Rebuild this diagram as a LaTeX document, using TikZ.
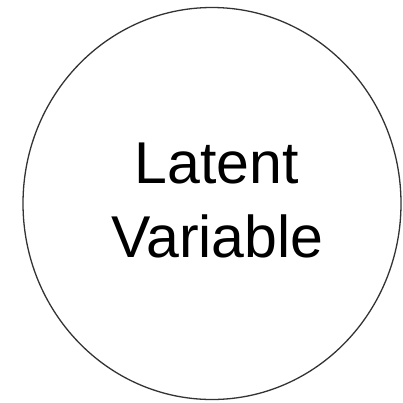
\documentclass[tikz,border=0pt]{standalone}
\usepackage{fontspec}
\setmainfont{Liberation Sans}
\usetikzlibrary{shapes.geometric}
\begin{document}
\begin{tikzpicture}[x=1pt,y=1pt,
  latent/.style={draw=black!80, line width=1.3pt, ellipse, inner sep=0pt},
  lbl/.style={anchor=base, inner sep=0pt, font=\fontsize{59}{70}\selectfont}]
\useasboundingbox (0,0) rectangle (403,-402);
\node[latent, minimum width=378pt, minimum height=392pt] (lv) at (212,-203.5) {};
\node[lbl] (t1) at (216.5,-183) {Latent};
\node[lbl] (t2) at (217.5,-257) {Variable};
\end{tikzpicture}
\end{document}
